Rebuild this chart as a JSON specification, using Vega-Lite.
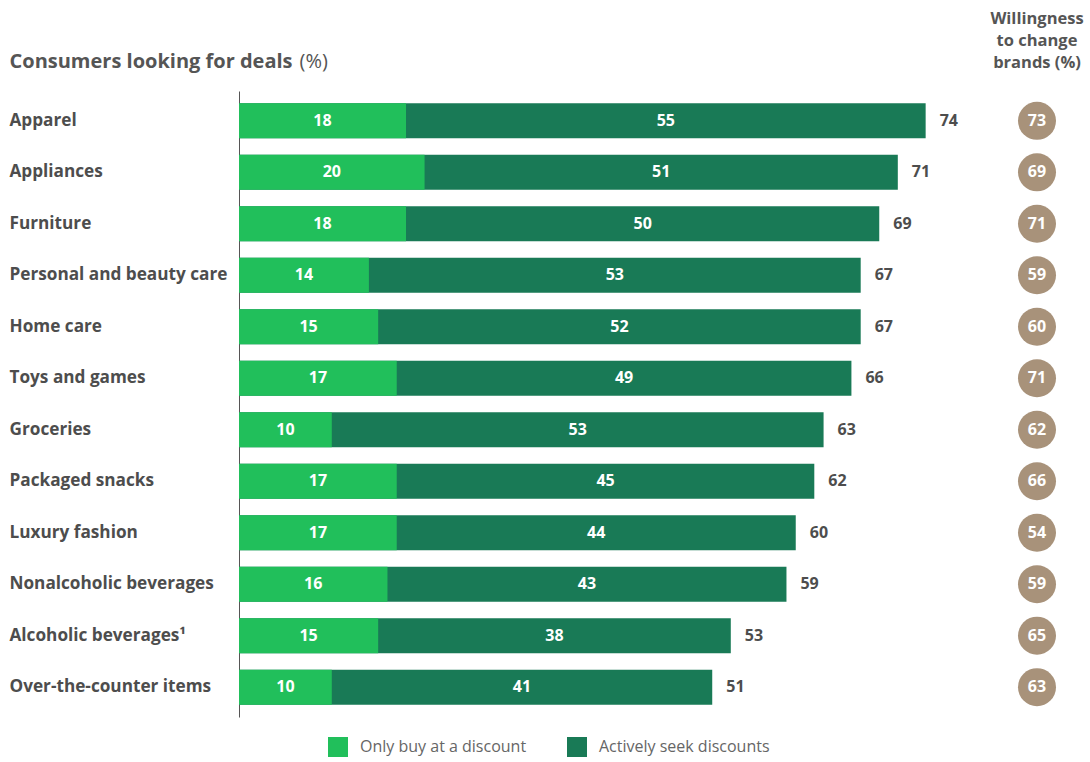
{
  "$schema": "https://vega.github.io/schema/vega-lite/v6.json",
  "width": 798,
  "height": 626,
  "padding": {"left": 9, "top": 10, "right": 5, "bottom": 5},
  "background": "white",
  "config": {
    "view": {"stroke": null},
    "font": "Open Sans",
    "scale": {"bandPaddingInner": 0.32, "bandPaddingOuter": 0.24}
  },
  "title": {
    "text": ["Willingness", "to change", "brands (%)"],
    "anchor": "end",
    "align": "center",
    "frame": "group",
    "fontSize": 16.5,
    "fontWeight": "bold",
    "color": "#555555",
    "lineHeight": 22,
    "offset": -20
  },
  "data": {
    "values": [
      {"category": "Apparel", "only": 18, "seek": 55, "total": 74, "willingness": 73},
      {"category": "Appliances", "only": 20, "seek": 51, "total": 71, "willingness": 69},
      {"category": "Furniture", "only": 18, "seek": 50, "total": 69, "willingness": 71},
      {"category": "Personal and beauty care", "only": 14, "seek": 53, "total": 67, "willingness": 59},
      {"category": "Home care", "only": 15, "seek": 52, "total": 67, "willingness": 60},
      {"category": "Toys and games", "only": 17, "seek": 49, "total": 66, "willingness": 71},
      {"category": "Groceries", "only": 10, "seek": 53, "total": 63, "willingness": 62},
      {"category": "Packaged snacks", "only": 17, "seek": 45, "total": 62, "willingness": 66},
      {"category": "Luxury fashion", "only": 17, "seek": 44, "total": 60, "willingness": 54},
      {"category": "Nonalcoholic beverages", "only": 16, "seek": 43, "total": 59, "willingness": 59},
      {"category": "Alcoholic beverages¹", "only": 15, "seek": 38, "total": 53, "willingness": 65},
      {"category": "Over-the-counter items", "only": 10, "seek": 41, "total": 51, "willingness": 63}
    ]
  },
  "layer": [
    {
      "layer": [
        {
          "mark": {"type": "bar"},
          "encoding": {
            "y": {
              "field": "category",
              "type": "nominal",
              "scale": {"domain": ["Apparel", "Appliances", "Furniture", "Personal and beauty care", "Home care", "Toys and games", "Groceries", "Packaged snacks", "Luxury fashion", "Nonalcoholic beverages", "Alcoholic beverages¹", "Over-the-counter items"]},
              "axis": {
                "title": "(%)",
                "titleAngle": 0,
                "titleX": 60,
                "titleY": -24,
                "titleAlign": "left",
                "titleBaseline": "alphabetic",
                "titleFontSize": 20,
                "titleFontWeight": "normal",
                "titleColor": "#555555",
                "labelAlign": "left",
                "labelPadding": 230,
                "ticks": false,
                "tickSize": 0,
                "labelFontSize": 17.2,
                "labelFontWeight": "bold",
                "labelColor": "#4d4d4d",
                "labelLimit": 300,
                "domainColor": "#555555",
                "grid": false
              }
            },
            "x": {
              "field": "total",
              "type": "quantitative",
              "scale": {"domain": [0, 86], "nice": false},
              "axis": {
                "orient": "top",
                "labels": false,
                "ticks": false,
                "domain": false,
                "grid": false,
                "title": "Consumers looking for deals",
                "titleX": -230,
                "titleY": -24,
                "titleAlign": "left",
                "titleBaseline": "alphabetic",
                "titleFontSize": 20,
                "titleFontWeight": "bold",
                "titleColor": "#555555"
              }
            },
            "color": {
              "datum": "Actively seek discounts",
              "scale": {"domain": ["Only buy at a discount", "Actively seek discounts"], "range": ["#21BF5B", "#197A56"]},
              "legend": {
                "orient": "none",
                "legendX": 89,
                "legendY": 646,
                "direction": "horizontal",
                "title": null,
                "symbolType": "square",
                "symbolSize": 400,
                "symbolStrokeWidth": 0,
                "symbolOpacity": 1,
                "labelFontSize": 16,
                "labelColor": "#666666",
                "labelOffset": 12,
                "labelLimit": 400,
                "columnPadding": 40
              }
            }
          }
        },
        {
          "mark": {"type": "bar"},
          "encoding": {
            "y": {"field": "category", "type": "nominal"},
            "x": {"field": "only", "type": "quantitative"},
            "color": {"datum": "Only buy at a discount"}
          }
        },
        {
          "mark": {"type": "text", "align": "left", "dx": 14, "fontWeight": "bold", "fontSize": 16, "color": "#4d4d4d"},
          "encoding": {
            "y": {"field": "category", "type": "nominal"},
            "x": {"field": "total", "type": "quantitative"},
            "text": {"field": "total"}
          }
        },
        {
          "mark": {"type": "circle", "size": 1444, "opacity": 1, "color": "#A8927A"},
          "encoding": {
            "y": {"field": "category", "type": "nominal"},
            "x": {"datum": 86, "type": "quantitative"}
          }
        },
        {
          "mark": {"type": "text", "color": "white", "fontWeight": "bold", "fontSize": 16},
          "encoding": {
            "y": {"field": "category", "type": "nominal"},
            "x": {"datum": 86, "type": "quantitative"},
            "text": {"field": "willingness"}
          }
        }
      ]
    },
    {
      "layer": [
        {
          "mark": {"type": "text", "color": "white", "fontWeight": "bold", "fontSize": 16},
          "encoding": {
            "y": {"field": "category", "type": "nominal"},
            "x": {"field": "only", "type": "quantitative", "scale": {"domain": [0, 172], "nice": false}, "axis": null},
            "text": {"field": "only"}
          }
        },
        {
          "transform": [{"fold": ["only", "total"], "as": ["part", "value"]}],
          "mark": {"type": "text", "color": "white", "fontWeight": "bold", "fontSize": 16},
          "encoding": {
            "y": {"field": "category", "type": "nominal"},
            "x": {"aggregate": "sum", "field": "value", "type": "quantitative", "axis": null},
            "text": {"aggregate": "max", "field": "seek", "type": "quantitative"}
          }
        }
      ]
    }
  ],
  "resolve": {"scale": {"x": "independent"}}
}
